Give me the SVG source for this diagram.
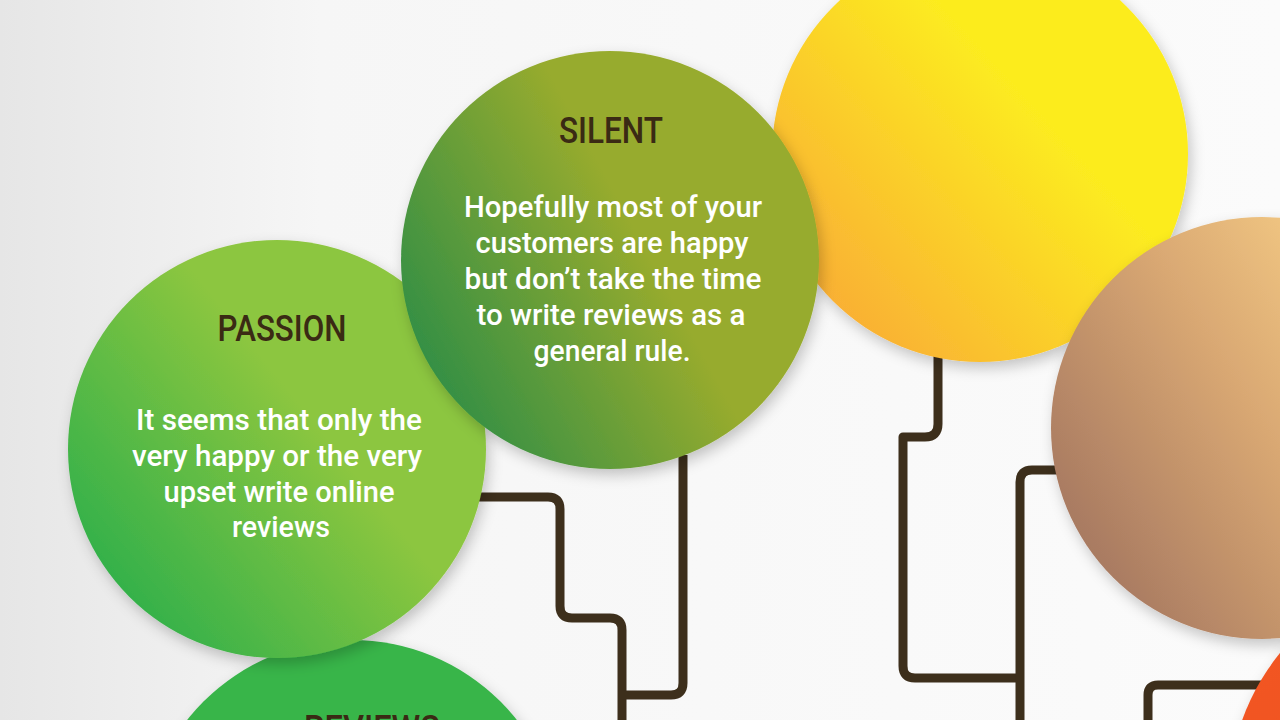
<svg xmlns="http://www.w3.org/2000/svg" width="1280" height="720" viewBox="0 0 1280 720">
<style>
.title{font-family:Roboto,"Liberation Sans",sans-serif;font-size:37px;font-weight:500;fill:#3a2a14;text-anchor:middle}
.body{font-family:Roboto,"Liberation Sans",sans-serif;font-size:30px;font-weight:500;fill:#ffffff;text-anchor:middle}
.conn{fill:none;stroke:#3d2f1c;stroke-width:9;stroke-linejoin:round}
</style>
<defs>
<linearGradient id="bg" x1="0" y1="0" x2="1" y2="0">
<stop offset="0" stop-color="#e6e6e6"/>
<stop offset="0.25" stop-color="#f6f6f6"/>
<stop offset="1" stop-color="#fbfbfb"/>
</linearGradient>
<linearGradient id="gPassion" x1="0.1" y1="0.85" x2="0.6" y2="0.45">
<stop offset="0" stop-color="#30b04a"/>
<stop offset="1" stop-color="#8cc63f"/>
</linearGradient>
<linearGradient id="gSilent" x1="0.05" y1="0.8" x2="0.6" y2="0.5">
<stop offset="0" stop-color="#2f8e46"/>
<stop offset="1" stop-color="#97ab2d"/>
</linearGradient>
<linearGradient id="gYellow" x1="0.05" y1="0.85" x2="0.6" y2="0.35">
<stop offset="0" stop-color="#f9ab36"/>
<stop offset="1" stop-color="#fcec1f"/>
</linearGradient>
<linearGradient id="gTan" x1="0.05" y1="0.75" x2="0.85" y2="0.25">
<stop offset="0" stop-color="#a77961"/>
<stop offset="0.55" stop-color="#d9a873"/>
<stop offset="1" stop-color="#f8cf86"/>
</linearGradient>
<linearGradient id="gOrange" x1="0" y1="0" x2="1" y2="1">
<stop offset="0" stop-color="#f25a24"/>
<stop offset="1" stop-color="#ee3e23"/>
</linearGradient>
<filter id="shadow" x="-20%" y="-20%" width="140%" height="140%">
<feDropShadow dx="3" dy="6" stdDeviation="7" flood-color="#000" flood-opacity="0.22"/>
</filter>
</defs>
<rect width="1280" height="720" fill="url(#bg)"/>

<g id="connectors">
<path class="conn" d="M 470 497 H 548 Q 560 497 560 509 V 606 Q 560 618 572 618 H 610 Q 622 618 622 630 V 725"/>
<path class="conn" d="M 683 455 V 683 Q 683 695 671 695 H 622"/>
<path class="conn" d="M 938 355 V 424 Q 938 437 925 437 H 903 V 666 Q 903 678 915 678 H 1020"/>
<path class="conn" d="M 1060 470 H 1032 Q 1020 470 1020 482 V 725"/>
<path class="conn" d="M 1265 685 H 1158 Q 1148 685 1148 695 V 725"/>
</g>

<g id="node-orange">
<circle cx="1462" cy="800" r="234" fill="url(#gOrange)" filter="url(#shadow)"/>
</g>

<g id="node-yellow">
<circle cx="980" cy="154" r="208" fill="url(#gYellow)" filter="url(#shadow)"/>
</g>

<g id="node-tan">
<circle cx="1262" cy="428" r="211" fill="url(#gTan)" filter="url(#shadow)"/>
</g>

<g id="node-reviews">
<circle cx="352" cy="850" r="210" fill="#39b54a" filter="url(#shadow)"/>
<text class="title" x="372" y="741" textLength="136" lengthAdjust="spacingAndGlyphs">REVIEWS</text>
</g>

<g id="node-passion">
<circle cx="277" cy="449" r="209" fill="url(#gPassion)" filter="url(#shadow)"/>
<text class="title" x="282" y="341" textLength="129" lengthAdjust="spacingAndGlyphs">PASSION</text>
<text class="body" x="279" y="430" textLength="286" lengthAdjust="spacingAndGlyphs">It seems that only the</text>
<text class="body" x="277" y="466" textLength="290" lengthAdjust="spacingAndGlyphs">very happy or the very</text>
<text class="body" x="279" y="502" textLength="231" lengthAdjust="spacingAndGlyphs">upset write online</text>
<text class="body" x="281" y="537" textLength="98" lengthAdjust="spacingAndGlyphs">reviews</text>
</g>

<g id="node-silent">
<circle cx="610" cy="260" r="209" fill="url(#gSilent)" filter="url(#shadow)"/>
<text class="title" x="611" y="143" textLength="104" lengthAdjust="spacingAndGlyphs">SILENT</text>
<text class="body" x="613" y="217" textLength="298" lengthAdjust="spacingAndGlyphs">Hopefully most of your</text>
<text class="body" x="612" y="253" textLength="273" lengthAdjust="spacingAndGlyphs">customers are happy</text>
<text class="body" x="613" y="289" textLength="297" lengthAdjust="spacingAndGlyphs">but don’t take the time</text>
<text class="body" x="611" y="325" textLength="269" lengthAdjust="spacingAndGlyphs">to write reviews as a</text>
<text class="body" x="612" y="361" textLength="157" lengthAdjust="spacingAndGlyphs">general rule.</text>
</g>
</svg>
